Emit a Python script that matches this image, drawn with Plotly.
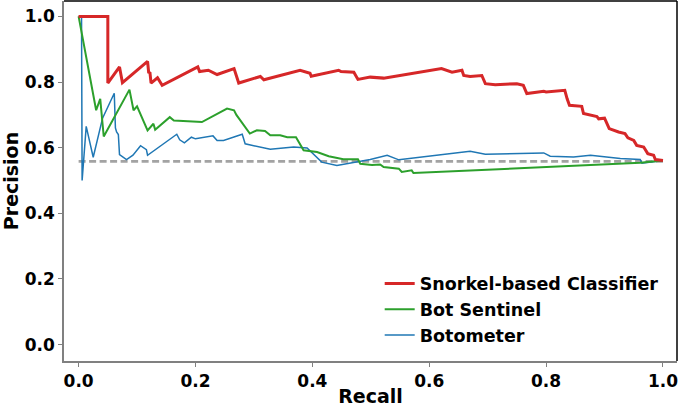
import plotly.graph_objects as go

# Snorkel-based Classifier
snorkel_recall = [0.0, 0.050, 0.050, 0.070, 0.075, 0.118, 0.120, 0.122, 0.124, 0.135, 0.143,
                  0.204, 0.207, 0.222, 0.237, 0.266, 0.274, 0.311, 0.317, 0.379, 0.396, 0.398,
                  0.445, 0.449, 0.471, 0.478, 0.499, 0.522, 0.621, 0.639, 0.656, 0.659, 0.670,
                  0.690, 0.696, 0.713, 0.750, 0.761, 0.767, 0.796, 0.800, 0.832, 0.836, 0.840,
                  0.861, 0.864, 0.887, 0.890, 0.900, 0.908, 0.924, 0.935, 0.940, 0.950, 0.955,
                  0.967, 0.974, 0.984, 0.987, 1.0]
snorkel_precision = [1.0, 1.0, 0.797, 0.846, 0.798, 0.863, 0.827, 0.830, 0.797, 0.813, 0.790,
                     0.846, 0.832, 0.836, 0.823, 0.841, 0.797, 0.817, 0.807, 0.836, 0.827, 0.818,
                     0.836, 0.832, 0.830, 0.808, 0.815, 0.812, 0.841, 0.830, 0.836, 0.820, 0.817,
                     0.820, 0.795, 0.792, 0.795, 0.790, 0.765, 0.772, 0.770, 0.775, 0.749, 0.729,
                     0.726, 0.704, 0.695, 0.688, 0.690, 0.658, 0.648, 0.643, 0.630, 0.622, 0.607,
                     0.602, 0.582, 0.577, 0.564, 0.561]

# Bot Sentinel
sentinel_recall = [0.0, 0.030, 0.037, 0.043, 0.087, 0.094, 0.100, 0.118, 0.128, 0.131, 0.156,
                   0.163, 0.211, 0.254, 0.266, 0.270, 0.293, 0.305, 0.319, 0.328, 0.345, 0.357,
                   0.372, 0.385, 0.408, 0.428, 0.453, 0.478, 0.482, 0.502, 0.516, 0.522, 0.548,
                   0.553, 0.570, 0.573, 0.961, 1.0]
sentinel_precision = [1.0, 0.714, 0.749, 0.634, 0.777, 0.714, 0.726, 0.653, 0.673, 0.655, 0.693,
                      0.683, 0.678, 0.719, 0.714, 0.700, 0.643, 0.653, 0.651, 0.638, 0.638, 0.632,
                      0.632, 0.592, 0.587, 0.574, 0.565, 0.565, 0.551, 0.547, 0.549, 0.541, 0.536,
                      0.526, 0.531, 0.523, 0.554, 0.561]

# Botometer
botometer_recall = [0.0, 0.005, 0.006, 0.013, 0.025, 0.041, 0.061, 0.063, 0.065, 0.068, 0.070,
                    0.082, 0.093, 0.106, 0.116, 0.118, 0.168, 0.173, 0.181, 0.193, 0.200, 0.230,
                    0.237, 0.248, 0.280, 0.285, 0.328, 0.368, 0.391, 0.416, 0.442, 0.499, 0.528,
                    0.548, 0.670, 0.696, 0.796, 0.807, 0.847, 0.876, 0.927, 0.961, 0.964, 1.0]
botometer_precision = [1.0, 1.0, 0.500, 0.665, 0.571, 0.690, 0.766, 0.660, 0.648, 0.640, 0.579,
                       0.564, 0.577, 0.606, 0.594, 0.577, 0.641, 0.624, 0.615, 0.632, 0.627, 0.636,
                       0.622, 0.622, 0.641, 0.612, 0.595, 0.602, 0.599, 0.556, 0.546, 0.564, 0.577,
                       0.563, 0.589, 0.580, 0.584, 0.574, 0.572, 0.577, 0.567, 0.564, 0.553, 0.561]

# Baseline (positive rate)
baseline_recall = [0.0, 1.0]
baseline_precision = [0.558, 0.558]

tick_vals = [0, 0.2, 0.4, 0.6, 0.8, 1.0]
tick_text = ["0.0", "0.2", "0.4", "0.6", "0.8", "1.0"]

FONT = "DejaVu Sans"

fig = go.Figure()
fig.add_trace(go.Scatter(x=baseline_recall, y=baseline_precision, mode="lines",
                         line=dict(color="#a3a3a3", width=2.8, dash="7px,3.5px"),
                         showlegend=False, hoverinfo="skip"))
fig.add_trace(go.Scatter(x=botometer_recall, y=botometer_precision, mode="lines",
                         name="Botometer", legendgroup="c", legendrank=3,
                         line=dict(color="#1f77b4", width=1.5)))
fig.add_trace(go.Scatter(x=sentinel_recall, y=sentinel_precision, mode="lines",
                         name="Bot Sentinel", legendgroup="b", legendrank=2,
                         line=dict(color="#2ca02c", width=2)))
fig.add_trace(go.Scatter(x=snorkel_recall, y=snorkel_precision, mode="lines",
                         name="Snorkel-based Classifier", legendgroup="a", legendrank=1,
                         line=dict(color="#d62728", width=3)))

axis_common = dict(
    showgrid=False, zeroline=False, showline=True, linecolor="#808080", linewidth=1.5,
    ticks="outside", ticklen=4, tickwidth=1, tickcolor="#808080", automargin=False,
    ticklabeloverflow="allow",
    tickfont=dict(family=FONT, size=17, color="black", weight="bold"),
)

fig.update_xaxes(range=[-0.025, 1.024], tickvals=tick_vals, ticktext=tick_text,
                 title=dict(text="Recall", font=dict(family=FONT, size=19, color="black", weight="bold"),
                            standoff=2),
                 **axis_common)
fig.update_yaxes(range=[-0.05, 1.047], tickvals=tick_vals, ticktext=tick_text,
                 title=dict(text="Precision", font=dict(family=FONT, size=19, color="black", weight="bold"),
                            standoff=4),
                 **axis_common)

# top and right spines
fig.add_shape(type="line", xref="paper", yref="paper", x0=0, x1=1, y0=1, y1=1,
              line=dict(color="black", width=1.5))
fig.add_shape(type="line", xref="paper", yref="paper", x0=1, x1=1, y0=0, y1=1,
              line=dict(color="black", width=1.5))

fig.update_layout(
    width=678, height=407,
    margin=dict(l=64, r=1, t=1, b=46),
    paper_bgcolor="white", plot_bgcolor="white",
    font=dict(family=FONT, color="black"),
    legend=dict(x=0.515, y=0.265, xanchor="left", yanchor="top",
                bgcolor="rgba(255,255,255,0)", borderwidth=0,
                font=dict(family=FONT, size=17.5, color="black", weight="bold"),
                tracegroupgap=3, traceorder="normal"),
    showlegend=True,
)

fig.write_html("out.html", config={"displayModeBar": False},
               post_script="document.body.style.margin='0px';document.body.style.overflow='hidden';")
